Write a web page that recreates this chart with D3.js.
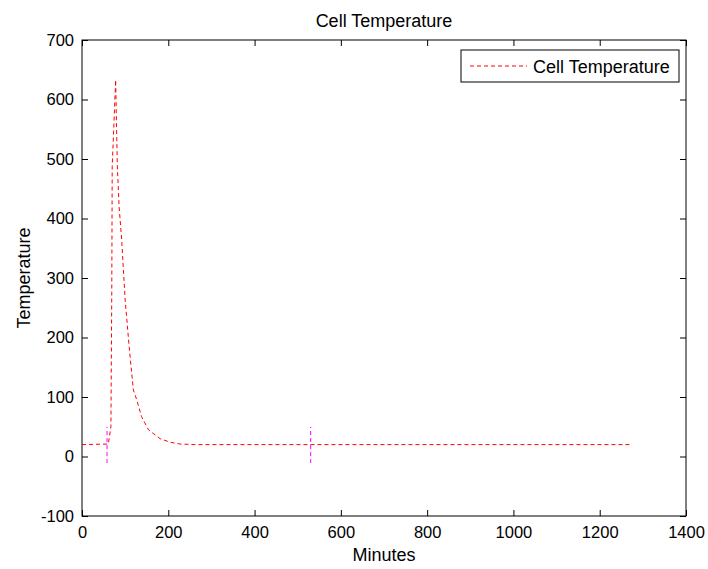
<!DOCTYPE html>
<html>
<head>
<meta charset="utf-8">
<script src="https://cdn.jsdelivr.net/npm/d3@7"></script>
<style>
  html, body { margin: 0; padding: 0; background: #fff; }
  svg { display: block; font-family: "Liberation Sans", Arial, sans-serif; }
</style>
</head>
<body>
<div id="chart"></div>
<script>
// data
var minutes = [0, 61, 67, 69, 70, 75, 78, 80, 82, 86, 92, 100, 110, 119, 127, 138, 154, 181, 204, 227, 260, 1270];
var temps   = [20, 21, 50, 275, 487, 577, 633, 554, 487, 420, 364, 263, 179, 112, 95, 67, 45, 30, 24, 21, 20, 20];
var markerMinutes = [58, 530];
var markerRange = [-11, 50];
var xTicks = [0, 200, 400, 600, 800, 1000, 1200, 1400];
var yTicks = [-100, 0, 100, 200, 300, 400, 500, 600, 700];
var seriesName = "Cell Temperature";

var width = 708, height = 569;
var margin = {top: 40, right: 22, bottom: 53, left: 82};
var innerW = width - margin.left - margin.right;
var innerH = height - margin.top - margin.bottom;

var svg = d3.select("#chart").append("svg")
    .attr("width", width)
    .attr("height", height);

var x = d3.scaleLinear().domain([0, 1400]).range([0, innerW]);
var y = d3.scaleLinear().domain([-100, 700]).range([innerH, 0]);

var g = svg.append("g").attr("transform", "translate(" + margin.left + "," + margin.top + ")");

g.append("rect")
    .attr("width", innerW).attr("height", innerH)
    .attr("fill", "#fff");

// plain hyphen for negatives, like the original
var fmt = function(d) { return String(d); };

// axes, ticks pointing inward on all four sides
function styleAxis(sel) {
  sel.select(".domain").remove();
  sel.selectAll(".tick line").attr("stroke", "#000");
  sel.selectAll(".tick text").attr("fill", "#000").style("font-size", "16.5px");
}
g.append("g").attr("transform", "translate(0," + innerH + ")")
    .call(d3.axisBottom(x).tickValues(xTicks).tickSizeInner(-6).tickSizeOuter(0).tickPadding(10).tickFormat(fmt))
    .call(styleAxis);
g.append("g")
    .call(d3.axisTop(x).tickValues(xTicks).tickSizeInner(-6).tickSizeOuter(0).tickFormat(""))
    .call(styleAxis);
g.append("g")
    .call(d3.axisLeft(y).tickValues(yTicks).tickSizeInner(-6).tickSizeOuter(0).tickPadding(8).tickFormat(fmt))
    .call(styleAxis);
g.append("g").attr("transform", "translate(" + innerW + ",0)")
    .call(d3.axisRight(y).tickValues(yTicks).tickSizeInner(-6).tickSizeOuter(0).tickFormat(""))
    .call(styleAxis);

g.append("rect")
    .attr("width", innerW).attr("height", innerH)
    .attr("fill", "none").attr("stroke", "#000").attr("stroke-width", 1);

// magenta markers
g.selectAll(".marker")
    .data(markerMinutes)
    .enter()
    .append("line")
    .attr("class", "marker")
    .attr("x1", function(d) { return x(d); })
    .attr("x2", function(d) { return x(d); })
    .attr("y1", y(markerRange[0]))
    .attr("y2", y(markerRange[1]))
    .attr("stroke", "#ff00ff")
    .attr("stroke-dasharray", "4,3");

// temperature curve
var points = minutes.map(function(m, i) { return [x(m), y(temps[i])]; });
g.append("path")
    .attr("d", d3.line()(points))
    .attr("fill", "none")
    .attr("stroke", "#ff0000")
    .attr("stroke-width", 1)
    .attr("stroke-dasharray", "4,3");

// title and labels
svg.append("text")
    .attr("x", margin.left + innerW / 2).attr("y", 27)
    .attr("text-anchor", "middle").style("font-size", "18px")
    .text("Cell Temperature");
svg.append("text")
    .attr("x", margin.left + innerW / 2).attr("y", 561)
    .attr("text-anchor", "middle").style("font-size", "18px")
    .text("Minutes");
svg.append("text")
    .attr("transform", "translate(30," + (margin.top + innerH / 2) + ") rotate(-90)")
    .attr("text-anchor", "middle").style("font-size", "18px")
    .text("Temperature");

// legend
var legend = svg.append("g").attr("transform", "translate(461,50)");
legend.append("rect")
    .attr("width", 218).attr("height", 32)
    .attr("fill", "#fff").attr("stroke", "#000");
legend.append("line")
    .attr("x1", 9).attr("x2", 66).attr("y1", 16).attr("y2", 16)
    .attr("stroke", "#ff0000").attr("stroke-dasharray", "4,3");
legend.append("text")
    .attr("x", 72).attr("y", 23)
    .style("font-size", "18px")
    .text(seriesName);
</script>
</body>
</html>
